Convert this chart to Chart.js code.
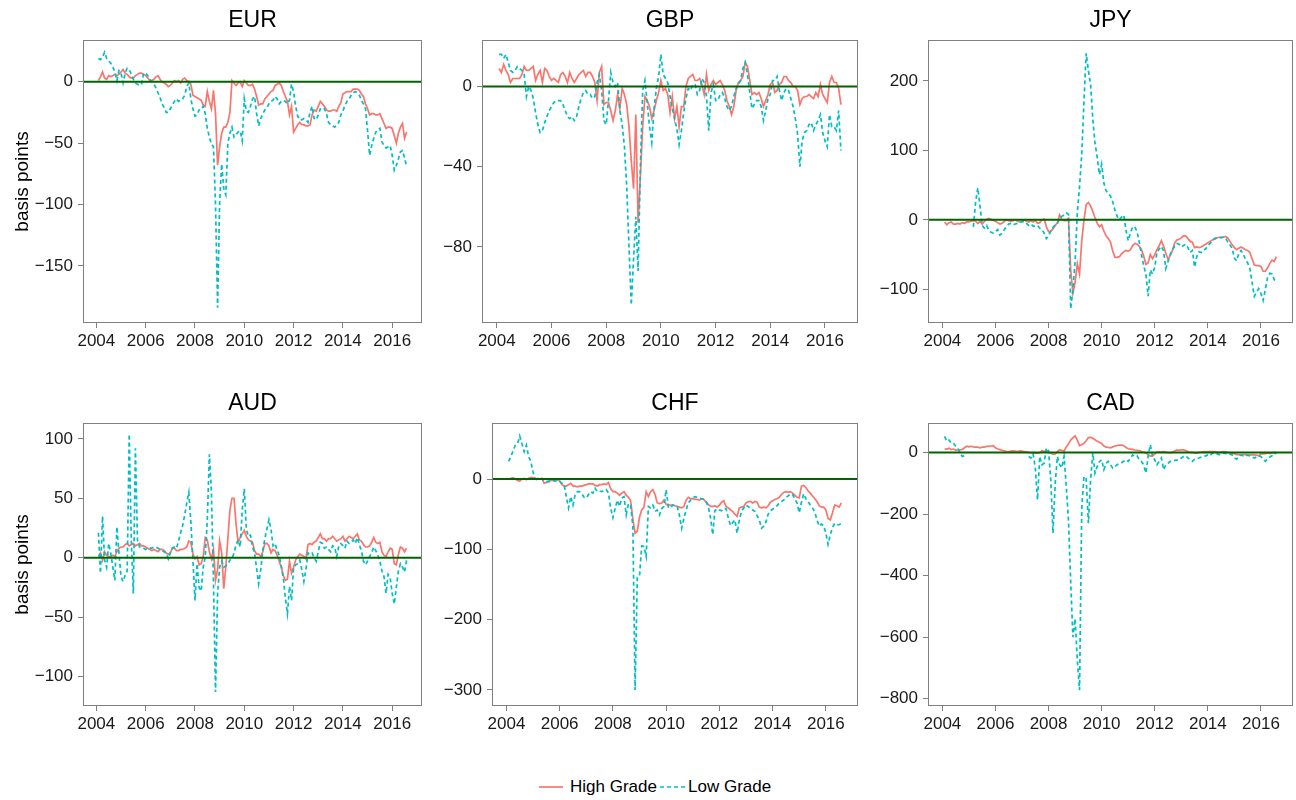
<!DOCTYPE html>
<html><head><meta charset="utf-8">
<script src="https://cdn.jsdelivr.net/npm/chart.js@4.4.1/dist/chart.umd.min.js"></script>
<style>
body{margin:0;background:#fff;width:1296px;height:800px;position:relative;overflow:hidden;font-family:"Liberation Sans",Arial,sans-serif;}
canvas{position:absolute;}
.lg{position:absolute;font-size:17px;line-height:20px;color:#000;white-space:nowrap;}
</style></head><body>
<canvas id="c0"></canvas><canvas id="c1"></canvas><canvas id="c2"></canvas>
<canvas id="c3"></canvas><canvas id="c4"></canvas><canvas id="c5"></canvas>
<svg style="position:absolute;left:530px;top:780px" width="170" height="14">
  <line x1="9" y1="7" x2="33" y2="7" stroke="#F8766D" stroke-width="1.7"/>
  <line x1="130" y1="7" x2="155" y2="7" stroke="#00BFC4" stroke-width="1.7" stroke-dasharray="4 3"/>
</svg>
<span class="lg" style="left:570px;top:777px">High Grade</span>
<span class="lg" style="left:688px;top:777px">Low Grade</span>
<script>
// monthly observations, Feb 2004 .. Aug 2016
const months = [];
for (let i = 0; i < 151; i++) months.push(2004 + (i + 1) / 12);
const xTickValues = [2004, 2006, 2008, 2010, 2012, 2014, 2016];
const N = null;

const EUR_high = [1,4,8,3,2,5,4,5,6,5,
6,8,10,7,6,4,3,3,5,6,
7,7,6,5,3,1,1,2,4,5,
2,0,-1,-2,-4,-3,-1,1,0,1,
-1,2,3,1,0,-2,-11,-12,-13,-14,
-15,-19,-20,-8,-16,-22,-7,-26,-68,-53,
-42,-37,-37,-33,-25,1,-1,-3,-1,0,
-4,1,-1,-3,-3,-2,-6,-12,-19,-18,
-18,-14,-12,-10,-8,-7,-3,-2,-1,-3,
-8,-12,-16,-27,-20,-41,-38,-35,-33,-35,
-35,-36,-36,-35,-27,-23,-24,-20,-16,-18,
-20,-23,-24,-24,-23,-23,-24,-20,-17,-10,
-9,-8,-8,-8,-6,-6,-6,-7,-10,-12,
-18,-22,-27,-26,-26,-27,-27,-26,-30,-34,
-38,-37,-37,-38,-44,-50,-42,-37,-34,-46,-41];
const EUR_low = [19,18,20,24,19,17,15,12,8,1,
9,7,-1,7,11,10,6,2,-1,-2,
-3,-2,7,7,5,2,0,-2,-5,-9,
-13,-18,-21,-25,-25,-22,-19,-16,-14,-16,
-15,-14,-11,-4,-1,-14,-22,-28,-27,-23,
-23,-20,-26,-38,-45,-51,-53,-100,-184,-98,
-67,-87,-92,-50,-42,-37,-45,-43,-41,-40,
-48,-14,-24,-25,-20,-14,-12,-26,-36,-30,
-26,-23,-21,-18,-16,-15,-12,-14,-18,-16,
-15,-16,-18,-15,-2,-8,-20,-28,-31,-31,
-30,-31,-33,-25,-20,-30,-31,-27,-22,-21,
-22,-26,-33,-35,-36,-37,-35,-33,-27,-24,
-19,-16,-14,-11,-9,-8,-9,-11,-15,-18,
-22,-40,-60,-52,-46,-41,-39,-38,-49,-52,
-54,-53,-52,-60,-72,-68,-63,-57,-56,-62,-69];

const GBP_high = [9,7,11,8,6,2,4,4,4,4,
6,10,8,8,9,10,3,6,8,2,
9,8,5,3,4,3,2,6,7,5,
2,7,4,2,4,6,7,8,5,7,
7,5,2,-7,7,10,-9,-8,-8,-12,
-17,-12,-4,-11,-1,-4,-9,-20,-37,-51,
-14,-68,-45,-20,-5,-7,-10,-16,-12,-7,
-3,3,-2,-1,-4,-13,-5,-16,-10,-20,
-10,-10,0,4,5,6,3,3,4,1,
-4,6,-2,1,3,1,2,3,1,-2,
-7,-10,-14,-10,-2,2,3,5,12,10,
3,-4,-3,-4,-3,-6,-10,-7,-4,1,
2,-3,-2,1,2,5,5,3,2,0,
0,-2,-9,-6,-5,-5,-4,-5,-6,-3,
-5,1,-4,-6,-8,2,5,2,2,-1,-9];
const GBP_low = [16,16,14,16,12,8,7,8,10,9,
8,6,-5,0,-2,-6,-13,-19,-23,-22,
-18,-15,-12,-10,-8,-7,-7,-7,-9,-12,
-15,-16,-15,-17,-15,-10,-6,-3,-2,-4,
-4,-6,-5,2,6,-2,-17,-19,-7,7,
2,0,2,-12,-19,-30,-50,-80,-109,-86,
-65,-92,-40,-2,3,-8,-20,-28,-11,-1,
5,16,6,4,2,-5,-11,-16,-21,-29,
-22,-13,-6,-1,-2,1,1,-4,-2,4,
2,-5,-22,-3,1,-7,-7,-4,-3,-6,
-10,-12,-10,-5,-1,1,3,9,12,6,
-3,-11,-9,-7,-7,-10,-17,-12,-6,-4,
3,3,5,-2,-7,-3,-1,-2,-6,-10,
-16,-24,-40,-27,-23,-22,-19,-18,-22,-19,
-17,-14,-23,-27,-30,-14,-20,-20,-22,-12,-32];

const JPY_high = [-3,-7,-4,-3,-6,-6,-5,-6,-4,-5,
-3,-3,-2,-1,-2,-5,-2,-6,-2,1,
2,1,-1,-2,-4,-6,-5,-2,0,-1,
-2,-1,0,-2,-3,-2,0,-2,-3,-1,
-3,-1,-5,-4,0,1,-10,-17,-16,-13,
-8,-4,7,0,-1,-1,2,-72,-106,-90,
-63,-78,-30,0,22,25,20,12,3,-5,
-10,-7,-16,-23,-27,-32,-45,-54,-54,-53,
-49,-46,-44,-45,-43,-37,-34,-35,-38,-43,
-52,-64,-62,-50,-56,-50,-43,-37,-30,-38,
-48,-57,-51,-44,-33,-29,-28,-26,-23,-23,
-27,-31,-32,-40,-39,-40,-39,-37,-35,-33,
-31,-29,-28,-26,-25,-25,-25,-24,-26,-31,
-36,-40,-43,-41,-39,-41,-43,-44,-47,-56,
-65,-66,-66,-67,-74,-74,-69,-63,-58,-60,-53];
const JPY_low = [N,N,N,N,N,N,N,N,N,N,
N,N,N,-10,25,46,20,-8,-12,-8,
-15,-18,-19,-17,-14,-22,-19,-14,-10,-6,
-5,-7,-6,-5,-3,-3,-2,-5,-8,-6,
-9,-9,-8,-12,-14,-19,-27,-23,-16,-11,
-7,-5,2,5,7,10,8,-128,-100,-60,
10,48,95,170,240,215,195,145,110,90,
65,80,53,42,38,34,26,14,5,0,
4,7,-15,-30,-19,-10,-10,-17,-32,-50,
-66,-78,-110,-72,-78,-68,-47,-42,-38,-45,
-70,-60,-50,-43,-38,-34,-35,-39,-37,-35,
-40,-47,-44,-68,-53,-46,-47,-43,-42,-37,
-34,-30,-27,-26,-25,-26,-25,-26,-32,-36,
-41,-55,-59,-48,-44,-49,-57,-62,-70,-90,
-110,-104,-99,-106,-116,-100,-83,-77,-78,-86,-90];

const AUD_high = [1,4,-2,5,2,1,1,2,1,5,
8,9,9,11,12,10,11,12,10,11,
12,10,10,9,8,7,6,7,6,5,
7,7,6,4,3,4,8,8,6,6,
7,7,8,9,14,13,3,-1,1,-6,
-5,1,17,15,5,-1,7,-19,-10,14,
4,-26,-8,16,40,50,50,28,13,17,
20,23,18,15,14,13,6,3,3,1,
5,12,12,10,4,7,6,2,-3,-8,
-15,-19,-18,-3,-13,-8,-2,1,3,2,
1,-1,11,12,11,13,14,17,20,16,
16,14,16,16,18,16,14,15,16,18,
14,16,18,17,16,18,20,15,14,11,
9,9,10,13,17,13,12,13,5,2,
1,5,8,7,-5,-6,3,9,8,5,8];
const AUD_low = [21,-13,35,-2,-8,12,4,-8,-19,26,
4,-16,-20,-15,-11,104,15,-30,92,15,
9,9,8,7,8,8,8,9,9,8,
7,6,5,4,-1,4,8,9,8,14,
21,27,36,46,55,30,-2,-36,-5,-25,
-28,-8,1,32,87,55,-20,-113,-30,-8,
-3,-8,-7,-5,-2,-1,4,11,15,9,
40,58,24,18,19,9,4,-9,-22,-10,
6,16,24,32,24,10,12,6,2,-7,
-17,-34,-47,-24,-36,-8,-6,-5,-2,-10,
-20,-10,4,3,4,0,-3,5,13,12,
8,9,7,5,10,9,1,10,12,10,
8,14,12,13,15,12,17,11,6,-3,
-6,-3,1,4,9,6,2,-3,-11,-16,
-30,-14,-17,-30,-39,-25,-11,-5,-8,-12,-2];

const CHF_high = [0,1,2,0,-2,-3,0,1,-1,1,
2,2,0,1,0,1,-6,-5,-4,-2,
-2,-2,-1,-3,-8,-10,-10,-8,-6,-10,
-10,-11,-10,-10,-9,-8,-7,-7,-7,-9,
-10,-8,-8,-7,-8,-5,-14,-18,-18,-20,
-23,-20,-18,-23,-26,-31,-57,-77,-74,-54,
-44,-40,-18,-25,-18,-15,-22,-34,-35,-34,
-30,-36,-37,-37,-37,-38,-39,-40,-41,-39,
-30,-26,-28,-28,-29,-29,-30,-28,-29,-33,
-36,-39,-39,-38,-40,-37,-33,-31,-39,-41,
-44,-46,-50,-53,-41,-40,-39,-34,-32,-32,
-34,-32,-33,-40,-41,-40,-41,-38,-33,-31,
-29,-28,-26,-22,-19,-18,-19,-18,-20,-23,
-26,-27,-10,-9,-12,-17,-20,-24,-28,-32,
-38,-40,-40,-44,-56,-58,-48,-37,-38,-40,-34];
const CHF_low = [25,32,40,48,50,61,50,39,48,32,
25,10,0,-1,0,0,-3,-4,-3,-2,
-2,-3,-2,-3,-6,-8,-25,-41,-25,-37,
-22,-18,-18,-21,-26,-27,-22,-18,-20,-13,
-18,-17,-18,-16,-15,-20,-42,-55,-42,-30,
-39,-27,-25,-51,-35,-37,-67,-300,-140,-138,
-95,-96,-110,-39,-41,-37,-46,-44,-51,-42,
-39,-15,-40,-41,-37,-38,-39,-52,-70,-56,
-44,-34,-30,-27,-25,-26,-27,-28,-29,-32,
-39,-55,-79,-45,-42,-44,-45,-42,-42,-55,
-66,-62,-58,-77,-58,-46,-41,-37,-39,-42,
-44,-46,-52,-58,-70,-67,-61,-50,-45,-43,
-40,-38,-34,-32,-30,-26,-24,-21,-22,-28,
-34,-48,-33,-21,-28,-32,-37,-41,-47,-58,
-67,-64,-66,-77,-93,-79,-69,-63,-65,-65,-63];

const CAD_high = [11,11,14,9,11,7,9,8,10,15,
20,18,20,18,17,17,15,17,17,20,
20,21,22,15,11,9,7,5,3,3,
4,5,4,3,5,4,3,2,0,-1,
-2,-2,-2,-1,6,3,6,0,-2,-6,
-5,3,8,7,4,18,28,40,47,54,
40,22,25,30,38,48,49,46,41,36,
33,29,21,17,16,15,18,21,22,24,
24,22,16,12,11,10,8,7,6,3,
0,-2,-7,-12,-12,-5,1,2,1,3,
1,-1,-1,0,5,8,7,8,8,6,
3,0,0,-2,-2,0,1,3,2,3,
3,3,3,2,0,2,3,2,0,-1,
-3,-4,-7,-7,-8,-7,-7,-7,-8,-7,
-8,-9,-11,-4,-5,-4,-2,-4,-2,0,0];
const CAD_low = [52,36,40,30,30,20,14,-2,-13,-11,
N,N,N,N,N,N,N,N,N,N,
N,N,N,N,N,N,N,N,N,N,
N,N,N,N,N,N,N,N,-13,-18,
-5,-50,-154,-13,-40,-35,15,5,-89,-262,
-100,-13,-40,-50,-13,-111,-220,-420,-600,-540,
-674,-772,-180,-78,-85,-230,-89,-2,-67,-45,
-30,-24,-56,-35,-29,-40,-51,-46,-40,-35,
-33,-29,-24,-29,-18,-8,-13,-11,-24,-30,
-40,-67,-13,25,-13,-24,-40,-29,-18,-56,
-40,-35,-29,-29,-26,-25,-24,-18,-13,-11,
-18,-24,-29,-22,-20,-18,-15,-13,-11,-8,
-11,-2,-2,-4,-7,-7,-2,-4,-2,-6,
-8,-18,-22,-13,-8,-11,-8,-10,-11,-15,
-18,-15,-11,-13,-22,-29,-22,-15,-11,-2,-4];

const titles = ['EUR','GBP','JPY','AUD','CHF','CAD'];
const highSeries = [EUR_high, GBP_high, JPY_high, AUD_high, CHF_high, CAD_high];
const lowSeries = [EUR_low, GBP_low, JPY_low, AUD_low, CHF_low, CAD_low];
const yTickValues = [[-150,-100,-50,0],[-80,-40,0],[-100,0,100,200],[-100,-50,0,50,100],[-300,-200,-100,0],[-800,-600,-400,-200,0]];
const yLimits = [[-196.5,34],[-118,23.2],[-148.5,259],[-124.7,113.3],[-322.8,79.7],[-823.5,95.6]];
const X_MIN = 2003.458, X_MAX = 2017.208;

// layout (pixels)
const FONT = '"Liberation Sans", Arial, sans-serif';
const panels = [
  {left:0,   top:0,   axisW:83, plotW:339, padR:4},
  {left:430, top:0,   axisW:52, plotW:376, padR:4},
  {left:870, top:0,   axisW:58, plotW:365, padR:3},
  {left:0,   top:383, axisW:83, plotW:339, padR:4},
  {left:430, top:383, axisW:62, plotW:366, padR:4},
  {left:870, top:383, axisW:58, plotW:365, padR:3}
];
const TITLE_H = 40, PLOT_H = 283, XAXIS_H = 40;

const boxPlugin = {
  id: 'box',
  afterDraw(chart) {
    const {ctx, chartArea: a} = chart;
    ctx.save();
    ctx.strokeStyle = '#7f7f7f';
    ctx.lineWidth = 1;
    ctx.strokeRect(Math.round(a.left) + 0.5, Math.round(a.top) + 0.5,
                   Math.round(a.right - a.left) - 1, Math.round(a.bottom - a.top) - 1);
    ctx.restore();
  }
};
const fmt = v => (v < 0 ? '\u2212' + Math.abs(v) : String(v));

panels.forEach((p, k) => {
  const cv = document.getElementById('c' + k);
  const w = p.axisW + p.plotW + p.padR, h = TITLE_H + PLOT_H + XAXIS_H;
  cv.width = w; cv.height = h;
  cv.style.left = p.left + 'px'; cv.style.top = p.top + 'px';
  cv.style.width = w + 'px'; cv.style.height = h + 'px';
  const first = (k % 3 === 0);
  new Chart(cv, {
    type: 'line',
    data: {
      datasets: [
        {label: 'zero', data: [{x: X_MIN, y: 0}, {x: X_MAX, y: 0}], borderColor: '#006400', borderWidth: 2, pointRadius: 0},
        {label: 'Low Grade', data: months.map((m, i) => ({x: m, y: lowSeries[k][i]})), borderColor: '#00BFC4', borderWidth: 1.7, borderDash: [4, 3], pointRadius: 0, spanGaps: false},
        {label: 'High Grade', data: months.map((m, i) => ({x: m, y: highSeries[k][i]})), borderColor: '#F8766D', borderWidth: 1.7, pointRadius: 0, spanGaps: false}
      ]
    },
    options: {
      responsive: false, animation: false, events: [],
      devicePixelRatio: 1,
      layout: {padding: {left: 0, right: p.padR, top: 0, bottom: 0}},
      plugins: {
        legend: {display: false}, tooltip: {enabled: false},
        title: {display: true, text: titles[k], fullSize: false, color: '#000',
                font: {family: FONT, size: 23, weight: 'normal'}, padding: {top: 7, bottom: 5.4}}
      },
      scales: {
        x: {
          type: 'linear', min: X_MIN, max: X_MAX,
          afterBuildTicks: s => { s.ticks = xTickValues.map(v => ({value: v})); },
          afterFit: s => { s.height = XAXIS_H; },
          ticks: {callback: v => String(v), font: {family: FONT, size: 17}, color: '#1a1a1a', padding: 3, maxRotation: 0, autoSkip: false},
          grid: {display: true, drawOnChartArea: false, drawTicks: true, tickLength: 5, color: '#7f7f7f', lineWidth: 1},
          border: {display: false}
        },
        y: {
          type: 'linear', min: yLimits[k][0], max: yLimits[k][1],
          afterBuildTicks: s => { s.ticks = yTickValues[k].map(v => ({value: v})); },
          afterFit: s => { s.width = p.axisW; },
          ticks: {callback: v => fmt(v), font: {family: FONT, size: 17}, color: '#1a1a1a', padding: 5, autoSkip: false},
          grid: {display: true, drawOnChartArea: false, drawTicks: true, tickLength: 5, color: '#7f7f7f', lineWidth: 1},
          border: {display: false},
          title: {display: first, text: 'basis points', color: '#000', font: {family: FONT, size: 19}, padding: {top: 11, bottom: 0}}
        }
      }
    },
    plugins: [boxPlugin]
  });
});
</script>
</body></html>
